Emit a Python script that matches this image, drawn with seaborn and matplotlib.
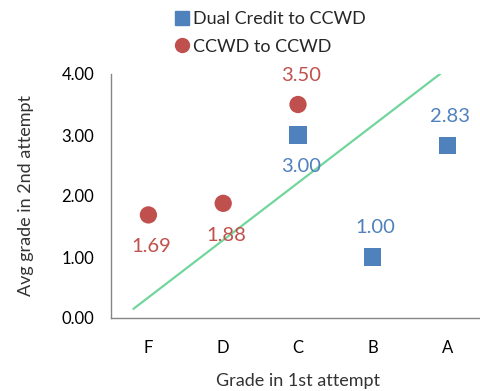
import matplotlib
matplotlib.use("Agg")
import matplotlib.pyplot as plt
from matplotlib.lines import Line2D
import seaborn as sns
import pandas as pd

# Data
grades = ["F", "D", "C", "B", "A"]
ccwd_x = ["F", "D", "C"]
ccwd_y = [1.69, 1.88, 3.50]
dual_x = ["C", "B", "A"]
dual_y = [3.00, 1.00, 2.83]
ref_x = [-0.2, 3.92]
ref_y = [0.15, 4.02]

BLUE = "#4F81BD"
RED = "#C0504D"
GREEN = "#72D69C"
AXIS = "#868686"
TEXT = "#333333"

sns.set_theme(style="white")
plt.rcParams["font.family"] = ["Lato", "DejaVu Sans"]

df = pd.DataFrame({
    "grade": dual_x + ccwd_x,
    "avg": dual_y + ccwd_y,
    "series": ["Dual Credit to CCWD"] * 3 + ["CCWD to CCWD"] * 3,
})
df["grade"] = pd.Categorical(df["grade"], categories=grades, ordered=True)
df["xpos"] = df["grade"].cat.codes

fig = plt.figure(figsize=(4.8, 3.91), dpi=100)
ax = fig.add_axes([111 / 480, 73 / 391, 374 / 480, 244 / 391])

ax.plot(ref_x, ref_y, color=GREEN, lw=1.6, zorder=1)

sns.scatterplot(data=df, x="xpos", y="avg", hue="series", style="series",
                palette={"Dual Credit to CCWD": BLUE, "CCWD to CCWD": RED},
                markers={"Dual Credit to CCWD": "s", "CCWD to CCWD": "o"},
                s=155, linewidth=0, legend=False, ax=ax, zorder=3)

# Value labels
dual_pos = ["below", "above", "above"]
ccwd_pos = ["below", "below", "above"]
for xs, ys, pos, c in [(dual_x, dual_y, dual_pos, BLUE), (ccwd_x, ccwd_y, ccwd_pos, RED)]:
    for g, v, p in zip(xs, ys, pos):
        dy = 21 if p == "above" else -23
        ax.annotate(f"{v:.2f}", (grades.index(g), v), xytext=(2, dy),
                    textcoords="offset points", ha="center", va="center",
                    color=c, fontsize=14.5)

ax.set_xlim(-0.5, 4.5)
ax.set_ylim(0, 4)
ax.set_xticks(range(len(grades)))
ax.set_xticklabels(grades)
ax.set_yticks([0, 1, 2, 3, 4])
ax.set_yticklabels([f"{t:.2f}" for t in [0, 1, 2, 3, 4]])

for side in ["top", "right"]:
    ax.spines[side].set_visible(False)
for side in ["left", "bottom"]:
    ax.spines[side].set_color(AXIS)
    ax.spines[side].set_linewidth(1.0)
ax.tick_params(axis="both", which="major", direction="out", length=5, width=1,
               color=AXIS, labelcolor="black", labelsize=12)
ax.tick_params(axis="x", pad=11)
ax.tick_params(axis="y", pad=7)

ax.set_xlabel("Grade in 1st attempt", fontsize=13, color=TEXT, labelpad=12)
ax.set_ylabel("Avg grade in 2nd attempt", fontsize=13, color=TEXT, labelpad=20)

handles = [
    Line2D([], [], marker="s", color=BLUE, lw=0, markersize=9.5),
    Line2D([], [], marker="o", color=RED, lw=0, markersize=10),
]
fig.legend(handles, ["Dual Credit to CCWD", "CCWD to CCWD"],
           loc="upper left", bbox_to_anchor=(164 / 480, 1.0), frameon=False,
           fontsize=13, handlelength=0.8, handletextpad=0.2, labelspacing=0.65,
           borderaxespad=0.2)

fig.savefig("out.png", dpi=100)
